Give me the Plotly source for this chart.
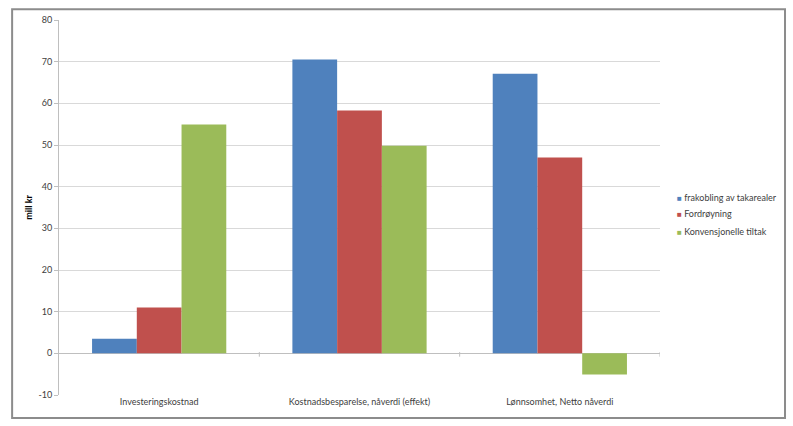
import plotly.graph_objects as go

categories = ["Investeringskostnad", "Kostnadsbesparelse, nåverdi (effekt)", "Lønnsomhet, Netto nåverdi"]
series_names = ["frakobling av takarealer", "Fordrøyning", "Konvensjonelle tiltak"]
frakobling = [3.5, 70.5, 67.1]
fordroyning = [11.0, 58.3, 47.0]
konvensjonelle = [54.9, 49.8, -5.1]
colors = ["#4F81BD", "#C0504D", "#9BBB59"]
y_ticks = [-10, 0, 10, 20, 30, 40, 50, 60, 70, 80]
y_tick_text = ["-10", "0", "10", "20", "30", "40", "50", "60", "70", "80"]

font = "Lato, Open Sans, sans-serif"

fig = go.Figure()
for name, vals, c in zip(series_names, [frakobling, fordroyning, konvensjonelle], colors):
    fig.add_trace(go.Bar(x=categories, y=vals, name=name, marker_color=c,
                         marker_line_width=0, showlegend=False))

# legend drawn as annotations (small squares before the text, Excel style)
legend_y = [0.528, 0.483, 0.435]
annotations = []
for name, c, ly in zip(series_names, colors, legend_y):
    annotations.append(dict(
        xref="paper", yref="paper", x=1.025, y=ly, xanchor="left", yanchor="middle",
        showarrow=False, align="left",
        text=f'<span style="color:{c}; font-size:8px">■</span> {name}',
        font=dict(family=font, size=9, color="#404040")))

fig.update_layout(
    width=793, height=426,
    margin=dict(l=59, r=133, t=20, b=31),
    paper_bgcolor="white", plot_bgcolor="white",
    barmode="group", bargap=0.33, bargroupgap=0,
    font=dict(family=font, size=9, color="#404040"),
    xaxis=dict(showgrid=False, showline=False, ticks="", range=[-0.5, 2.5],
               tickfont=dict(size=9, color="#404040")),
    yaxis=dict(range=[-10, 80], tickvals=y_ticks, ticktext=y_tick_text, showgrid=True,
               gridcolor="#D9D9D9", gridwidth=1, zeroline=True, zerolinecolor="#BFBFBF",
               zerolinewidth=1, showline=True, linecolor="#BFBFBF", ticks="outside", ticklen=4,
               tickcolor="#BFBFBF", tickfont=dict(size=9, color="#404040"),
               title=dict(text="<b>mill kr</b>", font=dict(size=9, color="#000000"), standoff=4)),
    annotations=annotations,
    shapes=[
        dict(type="rect", xref="paper", yref="paper", x0=-0.078, x1=1.208, y0=-0.061, y1=1.029,
             line=dict(color="#8C8C8C", width=2), fillcolor="rgba(0,0,0,0)", layer="below"),
    ] + [
        dict(type="line", xref="x", yref="y", x0=xv, x1=xv, y0=-0.8, y1=0.3,
             line=dict(color="#BFBFBF", width=1)) for xv in [0.5, 1.5, 2.5]
    ],
)
fig.write_html("out.html")
